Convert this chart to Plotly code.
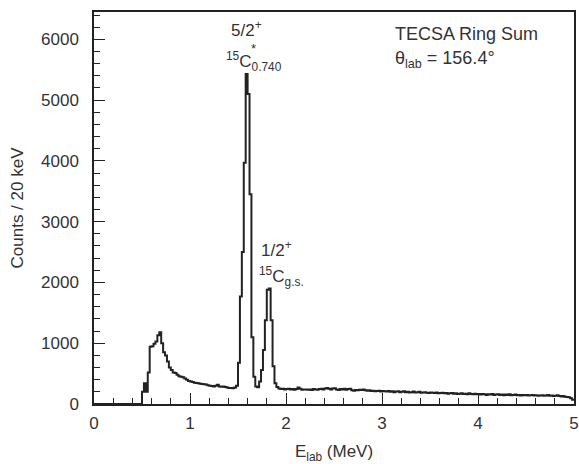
import plotly.graph_objects as go

# 20 keV bins from 0 to 5 MeV (left edges), counts per bin
bin_width = 0.02
e_min = 0.0
counts = [0] * 25 + [
    200, 340, 200, 520, 940,
    950, 990, 1030, 1130, 1180,
    1000, 850, 800, 700, 600,
    560, 520, 510, 480, 455,
    450, 440, 420, 400, 380,
    370, 360, 350, 345, 340,
    335, 330, 325, 320, 310,
    300, 295, 290, 300, 315,
    290, 285, 290, 280, 270,
    265, 265, 260, 270, 300,
    680, 1770, 2500, 3970, 5430,
    5100, 3450, 1100, 450, 290,
    275, 370, 560, 890, 1380,
    1880, 1900, 1380, 620, 340,
    280, 255, 245, 250, 240,
    245, 250, 240, 245, 235,
    245, 270, 250, 235, 240,
    240, 235, 240, 230, 245,
    240, 235, 245, 250, 240,
    255, 265, 250, 240, 255,
    260, 240, 230, 245, 240,
    250, 235, 245, 250, 225,
    220, 230, 225, 235, 230,
    240, 225, 220, 225, 215,
    220, 210, 215, 220, 205,
    215, 210, 205, 215, 200,
    210, 195, 205, 210, 195,
    200, 210, 195, 200, 190,
    195, 205, 190, 195, 200,
    185, 190, 195, 185, 180,
    190, 185, 180, 190, 175,
    180, 185, 175, 180, 170,
    175, 180, 170, 175, 165,
    170, 175, 165, 170, 160,
    175, 165, 160, 170, 160,
    165, 155, 165, 160, 150,
    160, 155, 165, 150, 155,
    160, 150, 155, 145, 155,
    150, 160, 145, 150, 155,
    145, 150, 140, 150, 145,
    150, 140, 145, 150, 140,
    145, 135, 140, 145, 135,
    140, 150, 135, 140, 130,
    135, 145, 130, 125, 130,
    120, 115, 110, 95, 70,
]

x_ticks = [0, 1, 2, 3, 4, 5]
y_ticks = [0, 1000, 2000, 3000, 4000, 5000, 6000]

edges = [e_min + i * bin_width for i in range(len(counts) + 1)]
ys = counts + [counts[-1]]

FONT = "Liberation Sans, Arial, sans-serif"
INK = "#222222"
TXT = "#333333"

L, R, T, B = 94, 5, 12, 60
W, H = 579, 464

fig = go.Figure()
fig.add_trace(go.Scatter(
    x=edges, y=ys, mode="lines", line=dict(shape="hv", color=INK, width=2),
    showlegend=False, hoverinfo="skip",
))

fig.update_layout(
    width=W, height=H,
    margin=dict(l=L, r=R, t=T, b=B, autoexpand=False),
    paper_bgcolor="white", plot_bgcolor="white",
    font=dict(family=FONT, size=17, color=TXT),
)

fig.update_xaxes(
    range=[0, 5], tickvals=x_ticks, ticktext=[str(v) for v in x_ticks],
    ticks="inside", ticklen=11, tickwidth=1, tickcolor=INK,
    minor=dict(dtick=0.2, ticks="inside", ticklen=6, tickcolor=INK, tickwidth=1),
    showline=True, linecolor=INK, linewidth=1.5, mirror=True,
    showgrid=False, zeroline=False, automargin=False,
    tickfont=dict(size=17, family=FONT, color=TXT),
    ticklabelstandoff=3,
    title=dict(text="E<sub>lab</sub> (MeV)", font=dict(size=17, family=FONT, color=TXT), standoff=14),
)
fig.update_yaxes(
    range=[0, 6450], tickvals=y_ticks, ticktext=[str(v) for v in y_ticks],
    ticks="inside", ticklen=11, tickwidth=1, tickcolor=INK,
    minor=dict(dtick=200, ticks="inside", ticklen=6, tickcolor=INK, tickwidth=1),
    showline=True, linecolor=INK, linewidth=1.5, mirror=True,
    showgrid=False, zeroline=False, automargin=False,
    tickfont=dict(size=17, family=FONT, color=TXT),
    ticklabelstandoff=10,
    title=dict(text="Counts / 20 keV", font=dict(size=17, family=FONT, color=TXT), standoff=13),
)

def note(text, x, y, size=17, xanchor="center"):
    fig.add_annotation(text=text, x=x, y=y, xref="paper", yref="paper",
                       showarrow=False, xanchor=xanchor, yanchor="middle",
                       font=dict(size=size, family=FONT, color=TXT))

# paper coords helpers (pixel -> paper fraction of plot area)
def px(xp):
    return (xp - L) / (W - R - L)

def py(yp):
    return (H - B - yp) / (H - B - T)

note("TECSA Ring Sum", px(393), py(34), size=18, xanchor="left")
note("θ<sub>lab</sub> = 156.4°", px(393), py(59), size=18, xanchor="left")
note("5/2<sup>+</sup>", px(246), py(29))
note("<sup>15</sup>C<sub>0.740</sub>", px(254), py(61))
note("*", px(253), py(49), size=13)
note("1/2<sup>+</sup>", px(276), py(249))
note("<sup>15</sup>C<sub>g.s.</sub>", px(281), py(276))

fig.write_html("out.html", config={"displayModeBar": False},
               post_script="document.body.style.margin='0';document.body.style.overflow='hidden';")
